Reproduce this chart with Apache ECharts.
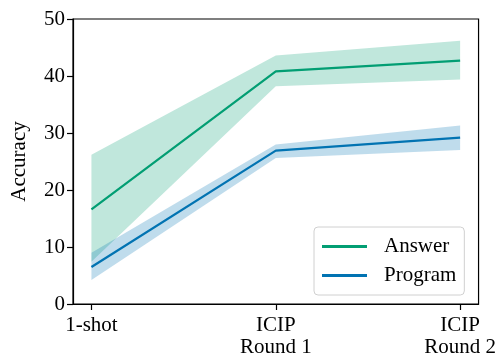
<!DOCTYPE html>
<html><head><meta charset="utf-8">
<script src="https://cdn.jsdelivr.net/npm/echarts@6/dist/echarts.min.js"></script>
<style>html,body{margin:0;padding:0;background:#fff}#c{width:499px;height:358px}</style>
</head><body><div id="c"></div>
<script>
const categories = ['1-shot', 'ICIP\nRound 1', 'ICIP\nRound 2'];
const xPos = [0, 1, 2];
const answerMean = [16.6, 40.8, 42.7];
const answerLow = [7.4, 38.2, 39.4];
const answerHigh = [26.2, 43.6, 46.2];
const programMean = [6.5, 26.9, 29.2];
const programLow = [4.2, 25.6, 27.0];
const programHigh = [9.0, 28.0, 31.3];
const yTicks = [0, 10, 20, 30, 40, 50];

const green = '#029e73', blue = '#0173b2';
const font = 'Liberation Serif';

function band(low, high, color, name) {
  return {
    type: 'custom', name: name, silent: true, z: 1,
    data: [0],
    renderItem: function (params, api) {
      const pts = [];
      for (let i = 0; i < xPos.length; i++) pts.push(api.coord([xPos[i], high[i]]));
      for (let i = xPos.length - 1; i >= 0; i--) pts.push(api.coord([xPos[i], low[i]]));
      return { type: 'polygon', shape: { points: pts }, style: { fill: color, opacity: 0.25 } };
    }
  };
}

const chart = echarts.init(document.getElementById('c'));
chart.setOption({
  animation: false,
  grid: { left: 73, right: 20, top: 19, bottom: 53, show: true, borderColor: '#000', borderWidth: 1.2, backgroundColor: 'transparent' },
  xAxis: {
    type: 'value', min: -0.1, max: 2.1,
    axisLine: { show: true, onZero: false, lineStyle: { color: '#000', width: 1.2 } },
    axisTick: { show: true, length: 6, lineStyle: { color: '#000', width: 1.2 }, customValues: xPos },
    axisLabel: { customValues: xPos, color: '#000', fontFamily: font, fontSize: 21, lineHeight: 22, margin: 10,
      formatter: v => categories[Math.round(v)] },
    splitLine: { show: false }
  },
  yAxis: {
    type: 'value', min: 0, max: 50, interval: 10,
    name: 'Accuracy', nameLocation: 'middle', nameGap: 43,
    nameTextStyle: { color: '#000', fontFamily: font, fontSize: 21 },
    axisLine: { show: true, onZero: false, lineStyle: { color: '#000', width: 1.2 } },
    axisTick: { show: true, length: 6, lineStyle: { color: '#000', width: 1.2 } },
    axisLabel: { color: '#000', fontFamily: font, fontSize: 21, margin: 8, formatter: v => yTicks.includes(v) ? String(v) : '' },
    splitLine: { show: false }
  },
  legend: {
    orient: 'vertical', left: 314, top: 227,
    data: ['Answer', 'Program'],
    icon: 'rect', itemWidth: 45, itemHeight: 3, itemGap: 8,
    padding: [9, 8, 9, 8],
    backgroundColor: '#fff', borderColor: '#d0d0d0', borderWidth: 1, borderRadius: 4,
    textStyle: { color: '#000', fontFamily: font, fontSize: 21, padding: [0, 0, 0, 12] }
  },
  series: [
    band(answerLow, answerHigh, green, 'AnswerBand'),
    band(programLow, programHigh, blue, 'ProgramBand'),
    { type: 'line', name: 'Answer', data: xPos.map((x, i) => [x, answerMean[i]]), showSymbol: false, z: 3,
      lineStyle: { color: green, width: 2.2 }, itemStyle: { color: green } },
    { type: 'line', name: 'Program', data: xPos.map((x, i) => [x, programMean[i]]), showSymbol: false, z: 3,
      lineStyle: { color: blue, width: 2.2 }, itemStyle: { color: blue } }
  ]
});
</script></body></html>
